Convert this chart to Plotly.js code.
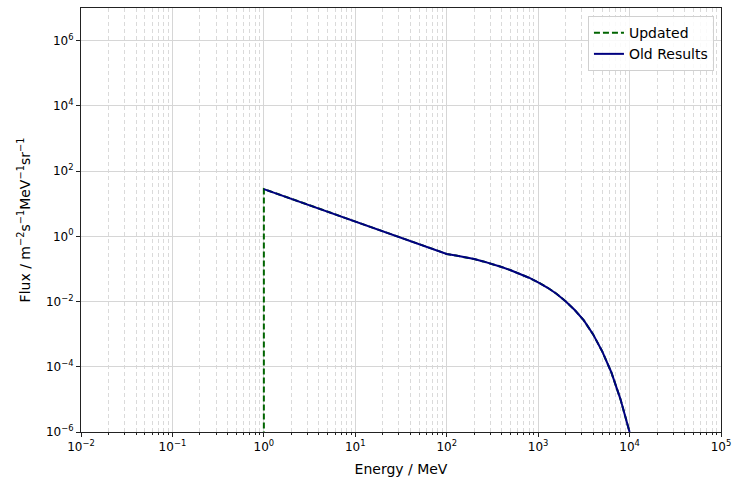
<!DOCTYPE html>
<html>
<head>
<meta charset="utf-8">
<script src="https://cdn.plot.ly/plotly-3.0.1.min.js"></script>
<style>html,body{margin:0;padding:0;background:#fff;}#chart{width:733px;height:477px;}</style>
</head>
<body>
<div id="chart"></div>
<script>
// Energy in MeV, flux in m^-2 s^-1 MeV^-1 sr^-1
const oldEnergy = [1, 2, 5, 10, 20, 50, 100, 126, 158, 200, 251, 316, 398, 501, 631, 794, 1000, 1259, 1585, 1995, 2512, 3162, 3981, 5012, 6310, 7079, 7943, 8913, 10000];
const oldFlux = [28, 14.1, 5.65, 2.84, 1.43, 0.574, 0.288, 0.257, 0.229, 0.2, 0.17, 0.141, 0.115, 0.0912, 0.0708, 0.0537, 0.0389, 0.0269, 0.0174, 0.0102, 0.0055, 0.00263, 0.001, 3.0e-4, 6.8e-5, 2.75e-5, 1.02e-5, 3.2e-6, 1e-6];
// updated series: same spectrum, but zero below 1 MeV (drawn as a drop to the bottom of the axis)
const updatedEnergy = [1, 1, 2, 5, 10, 20, 50, 100, 126, 158, 200, 251, 316, 398, 501, 631, 794, 1000, 1259, 1585, 1995, 2512, 3162, 3981, 5012, 6310, 7079, 7943, 8913, 10000];
const updatedFlux = [1e-7, 28, 14.1, 5.65, 2.84, 1.43, 0.574, 0.288, 0.257, 0.229, 0.2, 0.17, 0.141, 0.115, 0.0912, 0.0708, 0.0537, 0.0389, 0.0269, 0.0174, 0.0102, 0.0055, 0.00263, 0.001, 3.0e-4, 6.8e-5, 2.75e-5, 1.02e-5, 3.2e-6, 1e-6];
const seriesNames = ["Updated", "Old Results"];
const xTickVals = [1e-2, 1e-1, 1, 1e1, 1e2, 1e3, 1e4, 1e5];
const xTickText = ["10<sup>−2</sup>", "10<sup>−1</sup>", "10<sup>0</sup>", "10<sup>1</sup>", "10<sup>2</sup>", "10<sup>3</sup>", "10<sup>4</sup>", "10<sup>5</sup>"];
const yTickVals = [1e-6, 1e-4, 1e-2, 1, 1e2, 1e4, 1e6];
const yTickText = ["10<sup>−6</sup>", "10<sup>−4</sup>", "10<sup>−2</sup>", "10<sup>0</sup>", "10<sup>2</sup>", "10<sup>4</sup>", "10<sup>6</sup>"];
const xTitle = "Energy / MeV";
const yTitle = "Flux / m<sup>−2</sup>s<sup>−1</sup>MeV<sup>−1</sup>sr<sup>−1</sup>";

const font = "DejaVu Sans, sans-serif";
const traces = [
  {x: updatedEnergy, y: updatedFlux, name: seriesNames[0], mode: "lines",
   line: {color: "#006400", width: 2, dash: "6px,3px"}},
  {x: oldEnergy, y: oldFlux, name: seriesNames[1], mode: "lines",
   line: {color: "#000080", width: 2}}
];
const axisCommon = {
  type: "log", showline: true, mirror: true, linecolor: "#222", linewidth: 1,
  ticks: "outside", ticklen: 4, tickcolor: "#222", tickmode: "array",
  gridcolor: "#d6d6d6", gridwidth: 1, zeroline: false,
  tickfont: {family: font, size: 12, color: "#000"}
};
const layout = {
  width: 733, height: 477,
  margin: {l: 81, r: 12, t: 8, b: 45},
  paper_bgcolor: "#fff", plot_bgcolor: "#fff",
  font: {family: font, color: "#000"},
  showlegend: true,
  legend: {x: 0.989, y: 0.981, xanchor: "right", yanchor: "top",
    bgcolor: "rgba(255,255,255,0.85)", bordercolor: "#d0d0d0", borderwidth: 1,
    font: {family: font, size: 14}, tracegroupgap: 0},
  xaxis: Object.assign({}, axisCommon, {
    range: [-2, 5], tickvals: xTickVals, ticktext: xTickText,
    minor: {dtick: "D1", showgrid: true, griddash: "4px,3px", gridcolor: "#dadada", gridwidth: 1,
            ticks: "outside", ticklen: 2, tickcolor: "#222"},
    title: {text: xTitle, font: {family: font, size: 14}, standoff: 10}
  }),
  yaxis: Object.assign({}, axisCommon, {
    range: [-6, 7], tickvals: yTickVals, ticktext: yTickText,
    title: {text: yTitle, font: {family: font, size: 14}, standoff: 12}
  })
};
Plotly.newPlot("chart", traces, layout, {displayModeBar: false, staticPlot: true});
</script>
</body>
</html>
